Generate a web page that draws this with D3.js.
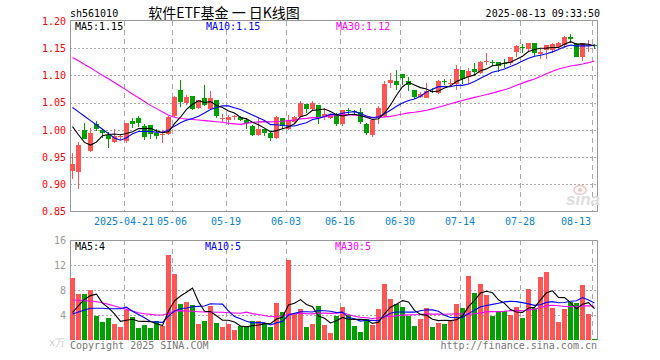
<!DOCTYPE html>
<html><head><meta charset="utf-8">
<script src="https://cdn.jsdelivr.net/npm/d3@7"></script>
<style>
body{margin:0;background:#fff;}
svg{display:block;}
text{font-family:"DejaVu Sans Mono","Liberation Mono",monospace;font-size:10px;}
</style></head><body>
<svg id="c" width="660" height="360"></svg>
<script>
const dates = ["04-08","04-09","04-10","04-11","04-14","04-15","04-16","04-17","04-18","04-21","04-22","04-23","04-24","04-25","04-28","04-29","04-30",
"05-06","05-07","05-08","05-09","05-12","05-13","05-14","05-15","05-16","05-19","05-20","05-21","05-22","05-23","05-26","05-27","05-28","05-29","05-30",
"06-03","06-04","06-05","06-06","06-09","06-10","06-11","06-12","06-13","06-16","06-17","06-18","06-19","06-20","06-23","06-24","06-25","06-26","06-27","06-30",
"07-01","07-02","07-03","07-04","07-07","07-08","07-09","07-10","07-11","07-14","07-15","07-16","07-17","07-18","07-21","07-22","07-23","07-24","07-25","07-28","07-29","07-30","07-31",
"08-01","08-04","08-05","08-06","08-07","08-08","08-11","08-12","08-13"];

const open = [0.925,0.923,0.999,0.961,1.010,0.999,0.990,0.977,0.987,0.980,
1.017,1.021,1.007,1.009,0.994,0.991,0.993,1.025,1.073,1.050,
1.062,1.041,1.059,1.039,1.055,1.020,1.019,1.024,1.024,1.019,
1.007,0.990,1.001,0.994,0.985,1.021,1.001,1.015,1.023,1.048,
1.038,1.045,1.023,1.022,1.029,1.010,1.036,1.035,1.033,1.010,
0.990,1.021,1.025,1.086,1.089,1.102,1.089,1.073,1.061,1.059,
1.071,1.067,1.089,1.085,1.085,1.110,1.097,1.111,1.104,1.126,
1.124,1.124,1.122,1.122,1.143,1.153,1.148,1.160,1.139,1.146,
1.147,1.153,1.156,1.171,1.157,1.133,1.155,1.156];

const high = [0.957,0.978,1.013,1.004,1.016,1.002,0.996,1.001,0.993,1.013,
1.021,1.026,1.010,1.009,1.002,0.999,1.025,1.062,1.091,1.064,
1.062,1.055,1.082,1.071,1.055,1.029,1.027,1.028,1.026,1.021,
1.009,1.023,1.002,0.996,1.025,1.021,1.028,1.025,1.053,1.048,
1.053,1.045,1.041,1.030,1.031,1.037,1.041,1.037,1.041,1.012,
1.018,1.043,1.090,1.105,1.110,1.102,1.097,1.073,1.070,1.087,
1.076,1.091,1.094,1.094,1.119,1.110,1.113,1.122,1.127,1.141,
1.129,1.124,1.131,1.133,1.156,1.158,1.159,1.160,1.149,1.156,
1.159,1.162,1.172,1.177,1.160,1.159,1.165,1.158];

const low = [0.909,0.891,0.983,0.960,0.998,0.985,0.967,0.975,0.981,0.976,
1.004,1.006,0.982,0.983,0.984,0.976,0.991,1.024,1.042,1.045,
1.036,1.039,1.043,1.037,1.022,1.015,1.009,1.018,1.017,1.001,
0.988,0.988,0.988,0.980,0.984,1.001,0.999,1.013,1.023,1.031,
1.037,1.011,1.019,1.020,1.007,1.007,1.030,1.030,1.010,0.990,
0.987,1.010,1.023,1.076,1.073,1.082,1.071,1.056,1.058,1.058,
1.067,1.066,1.082,1.079,1.074,1.085,1.085,1.099,1.102,1.119,
1.117,1.106,1.113,1.119,1.133,1.142,1.144,1.134,1.130,1.130,
1.141,1.148,1.150,1.160,1.133,1.127,1.143,1.149];

const close = [0.937,0.972,0.984,0.995,1.001,0.994,0.984,0.988,0.988,1.013,
1.010,1.013,0.987,0.992,0.989,0.992,1.023,1.061,1.051,1.061,
1.039,1.055,1.045,1.059,1.025,1.021,1.024,1.025,1.019,1.012,
0.990,1.001,0.994,0.985,1.023,1.007,1.018,1.023,1.050,1.038,
1.050,1.023,1.030,1.027,1.010,1.037,1.035,1.034,1.015,0.994,
1.018,1.041,1.085,1.091,1.083,1.096,1.082,1.061,1.066,1.071,
1.070,1.089,1.088,1.086,1.111,1.094,1.108,1.106,1.125,1.127,
1.123,1.117,1.121,1.133,1.154,1.152,1.159,1.141,1.143,1.156,
1.157,1.159,1.171,1.167,1.134,1.159,1.156,1.155];

const volume = [10.0,7.36,7.36,8.0,3.9,2.9,3.5,2.56,2.08,4.8,
3.68,1.92,2.4,1.92,3.04,2.24,13.6,10.56,5.76,6.08,
5.6,2.56,3.04,5.44,2.72,2.08,2.56,1.6,2.24,2.08,
3.04,3.04,2.72,2.08,5.92,4.48,12.8,4.16,4.96,2.08,
2.56,5.44,2.4,1.12,3.84,5.28,4.0,2.24,1.28,3.36,
2.4,4.96,8.96,6.56,5.76,5.28,3.84,2.24,3.36,5.12,
2.08,2.72,2.56,3.04,5.76,5.12,10.24,7.52,8.96,7.2,
3.84,4.64,4.64,4.0,5.28,3.52,8.16,5.12,10.08,10.88,
5.12,2.88,4.96,6.08,5.92,8.8,4.16,0.16];

const ma5Head = [1.006,0.991,0.977,0.972];
const ma10Head = [1.041,1.033,1.025,1.017,1.009,1.001,0.993,0.985,0.981];
const ma30Head = [1.133,1.127,1.120,1.114,1.107,1.100,1.094,1.087,1.080,1.073,1.066,1.059,1.052,1.045,1.039,1.033,1.027,1.023,1.021,1.020,1.019,1.018,1.017,1.016,1.015,1.014,1.012,1.011,1.010];
const vma5Head = [4.4,5.5,6.5,7.1];
const vma10Head = [4.16,4.48,4.8,5.07,5.07,5.07,5.0,5.0,5.0];
const vma30Head = [6.4,6.35,6.3,6.24,6.13,5.97,5.7,5.44,5.17,4.9,4.64,4.37,4.21,4.1,4.0,4.0,4.27,4.64,4.7,4.64,4.59,4.53,4.48,4.48,4.43,4.43,4.37,4.32,4.27];

const tickDates = ["04-21","05-06","05-19","06-03","06-16","06-30","07-14","07-28","08-13"];
const tickLabels = ["2025-04-21","05-06","05-19","06-03","06-16","06-30","07-14","07-28","08-13"];
const priceTicks = [0.85,0.90,0.95,1.00,1.05,1.10,1.15,1.20];
const volTicks = [4,8,12,16];

const RED = "#ff5555", GREEN = "#00a000", GRID = "#aaaaaa", BORDER = "#999999";

const svg = d3.select("#c");
const L = 70, R = 598;
const x = d3.scaleBand().domain(dates).range([L, R]).padding(0);
const yP = d3.scaleLinear().domain([0.85, 1.20]).range([211.5, 21]);
const yV = d3.scaleLinear().domain([0, 16]).range([340, 240]);
const crisp = v => Math.round(v) + 0.5;

function movAvg(vals, n, head) {
  return vals.map((v, i) => i < n - 1 ? head[i] : d3.mean(vals.slice(i - n + 1, i + 1)));
}

// clip paths
const defs = svg.append("defs");
defs.append("clipPath").attr("id", "cp").append("rect").attr("x", L).attr("y", 21).attr("width", 527.5).attr("height", 190.5);
defs.append("clipPath").attr("id", "cv").append("rect").attr("x", L).attr("y", 240).attr("width", 527.5).attr("height", 100);

// horizontal grid (main)
svg.append("g").selectAll("line").data(priceTicks.slice(1, -1)).join("line")
  .attr("x1", L).attr("x2", 597.5).attr("y1", d => crisp(yP(d))).attr("y2", d => crisp(yP(d)))
  .attr("stroke", GRID).attr("stroke-dasharray", "2,2");
// horizontal grid (volume)
svg.append("g").selectAll("line").data(volTicks.slice(0, -1)).join("line")
  .attr("x1", L).attr("x2", 597.5).attr("y1", d => crisp(yV(d))).attr("y2", d => crisp(yV(d)))
  .attr("stroke", GRID).attr("stroke-dasharray", "2,2");
// vertical dashed grid
const vg = svg.append("g");
tickDates.forEach(d => {
  const xx = crisp(x(d));
  vg.append("line").attr("x1", xx).attr("x2", xx).attr("y1", 21).attr("y2", 211.5)
    .attr("stroke", GRID).attr("stroke-dasharray", "5,4");
  vg.append("line").attr("x1", xx).attr("x2", xx).attr("y1", 240).attr("y2", 340)
    .attr("stroke", GRID).attr("stroke-dasharray", "5,4");
});

// borders
svg.append("rect").attr("x", 70.5).attr("y", 20.5).attr("width", 527).attr("height", 191)
  .attr("fill", "none").attr("stroke", BORDER);
svg.append("path").attr("d", "M70.5,340V240.5H597.5V340").attr("fill", "none").attr("stroke", BORDER);

// sina watermark
const wm = svg.append("g");
wm.append("ellipse").attr("cx", 580).attr("cy", 190).attr("rx", 6).attr("ry", 4.5).attr("fill", "none").attr("stroke", "#f2c6c6").attr("stroke-width", 1.5);
wm.append("circle").attr("cx", 580).attr("cy", 190).attr("r", 2).attr("fill", "#f2c6c6");
wm.append("text").attr("x", 566).attr("y", 205).attr("fill", "#dddddd")
  .style("font-family", "Arial, 'Liberation Sans', sans-serif").style("font-size", "17px")
  .style("font-weight", "bold").style("font-style", "italic").text("sina");

// candles
const cg = svg.append("g").attr("clip-path", "url(#cp)").attr("shape-rendering", "crispEdges");
dates.forEach((d, i) => {
  const up = close[i] >= open[i];
  const col = up ? RED : GREEN;
  const cx = x(d) + 2.5;
  cg.append("line").attr("x1", cx).attr("x2", cx).attr("y1", yP(high[i])).attr("y2", yP(low[i])).attr("stroke", col);
  const top = yP(Math.max(open[i], close[i])), bot = yP(Math.min(open[i], close[i]));
  cg.append("rect").attr("x", x(d)).attr("width", 5).attr("y", top).attr("height", Math.max(1, bot - top)).attr("fill", col);
});

// price MAs
const line = d3.line().x((v, i) => x(dates[i]) + 2.5);
const mg = svg.append("g").attr("clip-path", "url(#cp)").attr("fill", "none");
[[movAvg(close, 30, ma30Head), "#ff00ff"], [movAvg(close, 10, ma10Head), "#0000ff"], [movAvg(close, 5, ma5Head), "#000000"]]
  .forEach(([s, c]) => mg.append("path").attr("d", line.y(v => yP(v))(s)).attr("stroke", c).attr("stroke-width", 1.1));

// volume bars
const vb = svg.append("g").attr("clip-path", "url(#cv)").attr("shape-rendering", "crispEdges");
vb.selectAll("rect").data(volume).join("rect")
  .attr("x", (v, i) => x(dates[i])).attr("width", 5)
  .attr("y", v => yV(v)).attr("height", v => 340 - yV(v))
  .attr("fill", (v, i) => close[i] >= open[i] ? RED : GREEN);

// volume MAs
const vm = svg.append("g").attr("clip-path", "url(#cv)").attr("fill", "none");
[[movAvg(volume, 30, vma30Head), "#ff00ff"], [movAvg(volume, 10, vma10Head), "#0000ff"], [movAvg(volume, 5, vma5Head), "#000000"]]
  .forEach(([s, c]) => vm.append("path").attr("d", line.y(v => yV(v))(s)).attr("stroke", c).attr("stroke-width", 1.1));

// y axis labels (price)
const yAxis = d3.axisLeft(yP).tickValues(priceTicks).tickFormat(d3.format(".2f")).tickSize(0).tickPadding(4);
const ya = svg.append("g").attr("transform", "translate(70,0)").call(yAxis);
ya.select(".domain").remove();
ya.selectAll("text").attr("fill", "#ff0000").style("font-size", "10px").style("font-family", "'DejaVu Sans Mono',monospace");

// y axis labels (volume)
const vAxis = d3.axisLeft(yV).tickValues(volTicks).tickFormat(d3.format("d")).tickSize(0).tickPadding(4);
const va = svg.append("g").attr("transform", "translate(70,0)").call(vAxis);
va.select(".domain").remove();
va.selectAll("text").attr("fill", "#999999").style("font-size", "10px").style("font-family", "'DejaVu Sans Mono',monospace");
svg.append("text").attr("x", 49).attr("y", 346).attr("fill", "#cccccc").text("x万");

// x axis labels
const xa = svg.append("g");
tickDates.forEach((d, k) => {
  const last = k === tickDates.length - 1;
  xa.append("text").attr("x", last ? 591 : x(d)).attr("y", 225)
    .attr("text-anchor", last ? "end" : "middle").attr("fill", "#0a84d0").text(tickLabels[k]);
});

// header
svg.append("text").attr("x", 70).attr("y", 17).attr("fill", "#000").text("sh561010");
svg.append("text").attr("x", 224).attr("y", 18).attr("text-anchor", "middle").attr("fill", "#000")
  .style("font-family", "'Noto Sans CJK SC',sans-serif").style("font-size", "14px").text("软件ETF基金 一 日K线图");
svg.append("text").attr("x", 600).attr("y", 17).attr("text-anchor", "end").attr("fill", "#000").text("2025-08-13 09:33:50");

// legends
svg.append("text").attr("x", 75).attr("y", 30).attr("fill", "#000").text("MA5:1.15");
svg.append("text").attr("x", 206).attr("y", 30).attr("fill", "#0000ff").text("MA10:1.15");
svg.append("text").attr("x", 336).attr("y", 30).attr("fill", "#ff00ff").text("MA30:1.12");
svg.append("text").attr("x", 75).attr("y", 250).attr("fill", "#000").text("MA5:4");
svg.append("text").attr("x", 205).attr("y", 250).attr("fill", "#0000ff").text("MA10:5");
svg.append("text").attr("x", 335).attr("y", 250).attr("fill", "#ff00ff").text("MA30:5");

// footer
svg.append("text").attr("x", 70).attr("y", 349).attr("fill", "#777").text("Copyright 2025 SINA.COM");
svg.append("text").attr("x", 597).attr("y", 349).attr("text-anchor", "end").attr("fill", "#777").text("http://finance.sina.com.cn");
</script>
</body></html>
